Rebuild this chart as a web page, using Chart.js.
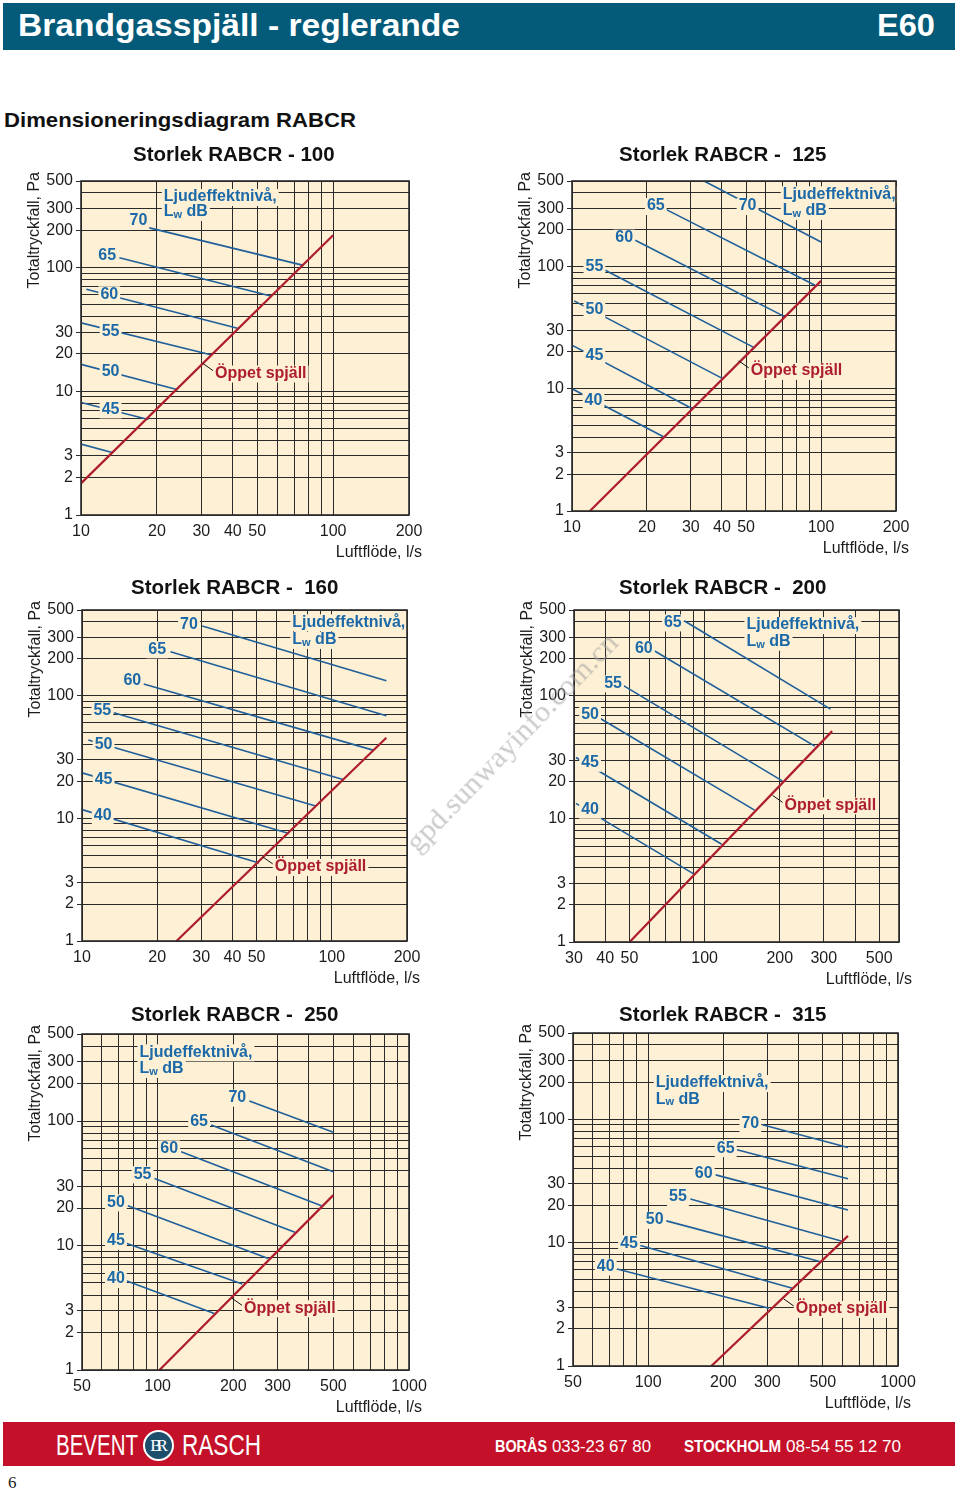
<!DOCTYPE html>
<html>
<head>
<meta charset="utf-8">
<script src="https://cdn.jsdelivr.net/npm/chart.js@4.4.1/dist/chart.umd.min.js"></script>
<style>
  body { margin: 0; width: 960px; height: 1493px; position: relative; background: #fff; overflow: hidden;
         font-family: 'Liberation Sans', Arial, sans-serif; }
  .abs { position: absolute; white-space: nowrap; }
  canvas { position: absolute; }
  #head { left: 3px; top: 3px; width: 952px; height: 47px; background: #045a79; }
  #foot { left: 3px; top: 1422px; width: 952px; height: 44px; background: #c41129; }
  .hd { color: #fff; font-weight: bold; font-size: 32px; line-height: 32px; }
  .ft { color: #fff; font-family: 'Liberation Sans Narrow', 'Liberation Sans', Arial, sans-serif; font-size: 16px; line-height: 16px; }
  .logo { color: #fff; font-family: 'Liberation Sans Narrow', 'Liberation Sans', Arial, sans-serif; font-size: 30px; line-height: 30px; }
  #br { left: 143px; top: 1430px; width: 27px; height: 27px; border-radius: 50%; background: #1d4f6d; border: 2px solid #fff;
        color: #fff; font-family: 'Liberation Serif', serif; font-size: 17px; line-height: 27px; text-align: center; letter-spacing: -5px; text-indent: -4px; }
  #wm { color: rgba(160,160,160,0.55); font-family: 'Liberation Serif', serif; font-size: 24px; line-height: 24px; }
</style>
</head>
<body>
<div id="head" class="abs"></div>
<div class="abs hd" style="left:18px;top:9px" data-w="442">Brandgasspjäll - reglerande</div>
<div class="abs hd" style="left:877px;top:9px" data-w="58">E60</div>
<div class="abs" style="left:4px;top:109px;font-weight:bold;font-size:21px;line-height:21px;color:#111" data-w="352">Dimensioneringsdiagram RABCR</div>

<div id="foot" class="abs"></div>
<div class="abs logo" style="left:56px;top:1430px" data-w="82">BEVENT</div>
<div id="br" class="abs">BR</div>
<div class="abs logo" style="left:182px;top:1430px" data-w="79">RASCH</div>
<div class="abs ft" style="left:495px;top:1439px;font-weight:bold" data-w="52">BORÅS</div>
<div class="abs ft" style="left:552px;top:1439px" data-w="99">033-23 67 80</div>
<div class="abs ft" style="left:684px;top:1439px;font-weight:bold" data-w="97">STOCKHOLM</div>
<div class="abs ft" style="left:786px;top:1439px" data-w="115">08-54 55 12 70</div>
<div class="abs" style="left:8px;top:1474px;font-family:'Liberation Serif',serif;font-size:17px;line-height:17px;color:#222">6</div>

<script>
// sound power levels, Lw dB (top line first)
const levels = [70, 65, 60, 55, 50, 45, 40];

// axis grids and tick labels
const yGrid = [1, 2, 3, 4, 5, 6, 7, 8, 9, 10, 20, 30, 40, 50, 60, 70, 80, 90, 100, 200, 300, 400, 500];
const yTicks = [1, 2, 3, 10, 20, 30, 100, 200, 300, 500];
const xGridA = [10, 20, 30, 40, 50, 60, 70, 80, 90, 100, 200];
const xTicksA = [10, 20, 30, 40, 50, 100, 200];
const xGridB = [30, 40, 50, 60, 70, 80, 90, 100, 200, 300, 400, 500, 600];
const xTicksB = [30, 40, 50, 100, 200, 300, 500];
const xGridC = [50, 60, 70, 80, 90, 100, 200, 300, 400, 500, 600, 700, 800, 900, 1000];
const xTicksC = [50, 100, 200, 300, 500, 1000];

// RABCR 100: Lw lines [flow1, pa1, flow2, pa2], open damper, label anchors
const lw100 = [[18.5, 210, 76.2, 104], [14.2, 120, 57.1, 58.6], [10.5, 66.8, 42.1, 32.1], [10, 35.7, 33, 19.6],
               [10, 16.5, 24.2, 10.3], [10, 8.12, 18.5, 5.92], [10, 3.74, 13.4, 3.19]];
const open100 = [[10, 1.8], [100, 182]];
const tag100 = [[16.9, 238], [12.7, 124], [12.95, 60.8], [13.1, 30.6], [13.1, 14.5], [13.1, 7.13], null];
const ljud100 = [21.3, 371, 281];
const openTag100 = [34, 13.9];

// RABCR 125
const lw125 = [[33.9, 500, 100, 158.6], [23.5, 297, 94.6, 70.2], [17.95, 163.7, 71.7, 38.7], [13.6, 93.1, 53.9, 21.7],
               [10.2, 52.3, 40.3, 12.1], [10, 22.7, 30.3, 6.9], [10, 10.0, 23.3, 4.05]];
const open125 = [[11.8, 1], [100, 76.2]];
const tag125 = [[50.7, 312], [21.7, 312], [16.2, 172], [12.3, 100], [12.3, 44.4], [12.3, 18.8], [12.2, 8.07]];
const ljud125 = [70.2, 389, 284];
const openTag125 = [52.2, 14.0];

// RABCR 160
const lw160 = [[30.3, 370.5, 165.3, 132.6], [22.6, 228.6, 165.3, 68.7], [17.66, 124.5, 146.2, 36.0], [13.4, 72.6, 110.9, 20.75],
               [10.6, 43.5, 86.2, 12.6], [10, 23.5, 67.4, 7.52], [10, 11.8, 51.1, 4.33]];
const open160 = [[23.9, 1], [165.3, 45.4]];
const tag160 = [[26.8, 377.5], [20, 239], [15.9, 132], [12.06, 75], [12.2, 40.3], [12.2, 20.7], [12.1, 10.6]];
const ljud160 = [69.5, 397, 285];
const openTag160 = [59.1, 4.02];

// RABCR 200 (no 70 dB line)
const lw200 = [null, [82.8, 409, 319, 78.2], [63.1, 232, 276, 39.1], [47.0, 122.6, 204.5, 20.4],
               [37.8, 66.5, 158.5, 11.8], [30.55, 31.6, 117, 6.23], [30.55, 13.4, 90, 3.6]];
const open200 = [[50.1, 1], [324, 51.8]];
const tag200 = [null, [74.6, 396], [57.1, 241], [43.0, 126.5], [34.8, 71.2], [34.8, 28.6], [34.8, 11.9]];
const ljud200 = [147, 377, 276];
const openTag200 = [209, 12.9];

// RABCR 250
const lw250 = [[231.6, 144.7, 500, 81.1], [163.2, 92.9, 500, 39.2], [124, 56.7, 448.5, 20.9], [97.2, 34.6, 351.6, 12.76],
               [76.1, 20.9, 275.4, 7.88], [75.4, 10.4, 217.2, 4.91], [75.4, 5.19, 168.1, 2.85]];
const open250 = [[101.7, 1], [500, 25.4]];
const tag250 = [[207.5, 154], [146.2, 98.8], [111.1, 60.3], [87.1, 37.3], [68.2, 22.2], [68.2, 10.9], [68.2, 5.38]];
const ljud250 = [84.7, 356, 262];
const openTag250 = [220.6, 3.13];

// RABCR 315
const lw315 = [[286.4, 90.2, 630.6, 59.1], [226.7, 56.5, 630.6, 32.9], [186.3, 35.4, 630.6, 18.4], [147.5, 22.6, 602, 10.2],
               [118.2, 15.0, 485.8, 7.02], [93.0, 9.47, 377.6, 4.27], [75.0, 6.12, 304.6, 2.94]];
const open315 = [[179, 1], [630.6, 11.34]];
const tag315 = [[256.4, 93], [204.3, 58.3], [166.8, 36.6], [131.6, 23.4], [106.2, 15.3], [83.8, 9.89], [67.6, 6.39]];
const ljud315 = [107.1, 196.4, 145.6];
const openTag315 = [389.5, 2.9];

const CREAM = '#fdf0d4', GRID = '#2a2a2a', BLUE = '#1f5f9a', BLUE_TXT = '#1b69a8', RED = '#ad1d2d', INK = '#1c1c1c';
const FONT = "'Liberation Sans', Arial, sans-serif";

const specs = [
  { title: 'Storlek RABCR - 100', lines: lw100, open: open100, tags: tag100, ljud: ljud100, openTag: openTag100,
    xGrid: xGridA, xTicks: xTicksA, box: [0, 135, 480, 435], plot: [81, 181, 409, 515], gap: 26, tx: 52 },
  { title: 'Storlek RABCR -  125', lines: lw125, open: open125, tags: tag125, ljud: ljud125, openTag: openTag125,
    xGrid: xGridA, xTicks: xTicksA, box: [480, 135, 480, 435], plot: [572, 181, 896, 511], gap: 26, tx: 47 },
  { title: 'Storlek RABCR -  160', lines: lw160, open: open160, tags: tag160, ljud: ljud160, openTag: openTag160,
    xGrid: xGridA, xTicks: xTicksA, box: [0, 570, 480, 425], plot: [82, 610, 407, 941], gap: 22, tx: 49 },
  { title: 'Storlek RABCR -  200', lines: lw200, open: open200, tags: tag200, ljud: ljud200, openTag: openTag200,
    xGrid: xGridB, xTicks: xTicksB, box: [480, 570, 480, 425], plot: [574, 610, 899, 942], gap: 22, tx: 45 },
  { title: 'Storlek RABCR -  250', lines: lw250, open: open250, tags: tag250, ljud: ljud250, openTag: openTag250,
    xGrid: xGridC, xTicks: xTicksC, box: [0, 995, 480, 425], plot: [82, 1034, 409, 1370], gap: 19, tx: 49 },
  { title: 'Storlek RABCR -  315', lines: lw315, open: open315, tags: tag315, ljud: ljud315, openTag: openTag315,
    xGrid: xGridC, xTicks: xTicksC, box: [480, 995, 480, 425], plot: [573, 1033, 898, 1366], gap: 18, tx: 46 }
];

function label(ctx, text, px, py, align, color, font) {
  ctx.font = font || 'bold 16px ' + FONT;
  const w = ctx.measureText(text).width;
  const left = align === 'left' ? px : px - w / 2;
  ctx.fillStyle = CREAM;
  ctx.fillRect(left - 2, py - 8, w + 4, 17);
  ctx.fillStyle = color;
  ctx.textAlign = 'left';
  ctx.textBaseline = 'middle';
  ctx.fillText(text, left, py);
}

function lwLabel(ctx, px, py) {
  ctx.font = 'bold 16px ' + FONT;
  const wL = ctx.measureText('L').width;
  const wDb = ctx.measureText(' dB').width;
  ctx.font = 'bold 11px ' + FONT;
  const wW = ctx.measureText('w').width;
  ctx.fillStyle = CREAM;
  ctx.fillRect(px - 2, py - 8, wL + wW + wDb + 4, 17);
  ctx.fillStyle = BLUE_TXT;
  ctx.textAlign = 'left';
  ctx.textBaseline = 'middle';
  ctx.font = 'bold 16px ' + FONT;
  ctx.fillText('L', px, py);
  ctx.font = 'bold 11px ' + FONT;
  ctx.fillText('w', px + wL, py + 3);
  ctx.font = 'bold 16px ' + FONT;
  ctx.fillText(' dB', px + wL + wW, py);
}

function overlay(s) {
  return {
    id: 'overlay',
    beforeDraw(chart) {
      const { ctx, chartArea: a } = chart;
      ctx.save();
      ctx.fillStyle = CREAM;
      ctx.fillRect(a.left, a.top, a.right - a.left, a.bottom - a.top);
      ctx.restore();
    },
    afterDatasetsDraw(chart) {
      const { ctx, scales: { x, y } } = chart;
      ctx.save();
      s.tags.forEach((t, i) => {
        if (t) label(ctx, String(levels[i]), x.getPixelForValue(t[0]), y.getPixelForValue(t[1]), 'center', BLUE_TXT);
      });
      const lx = x.getPixelForValue(s.ljud[0]);
      label(ctx, 'Ljudeffektnivå,', lx, y.getPixelForValue(s.ljud[1]), 'left', BLUE_TXT);
      lwLabel(ctx, lx, y.getPixelForValue(s.ljud[2]));
      const ox = x.getPixelForValue(s.openTag[0]), oy = y.getPixelForValue(s.openTag[1]);
      label(ctx, 'Öppet spjäll', ox, oy, 'left', RED, 'bold 16px ' + FONT);
      ctx.strokeStyle = '#111';
      ctx.lineWidth = 1;
      ctx.beginPath();
      ctx.moveTo(ox - 12, oy - 10);
      ctx.lineTo(ox - 2, oy - 3);
      ctx.stroke();
      ctx.restore();
    },
    afterDraw(chart) {
      const { ctx, chartArea: a } = chart;
      ctx.save();
      ctx.strokeStyle = GRID;
      ctx.lineWidth = 1.6;
      ctx.strokeRect(a.left, a.top, a.right - a.left, a.bottom - a.top);
      ctx.fillStyle = '#111';
      ctx.textBaseline = 'middle';
      ctx.textAlign = 'left';
      ctx.font = 'bold 20.5px ' + FONT;
      ctx.fillText(s.title, a.left + s.tx, a.top - s.gap);
      ctx.fillStyle = INK;
      ctx.font = '16px ' + FONT;
      ctx.textAlign = 'right';
      ctx.fillText('Luftflöde, l/s', a.right + 13, a.bottom + 38);
      ctx.translate(a.left - 46.5, a.top - 9);
      ctx.rotate(-Math.PI / 2);
      ctx.font = '16px ' + FONT;
      ctx.fillText('Totaltryckfall, Pa', 0, 0);
      ctx.restore();
    }
  };
}

function makeChart(s) {
  const [bx, by, bw, bh] = s.box;
  const [pl, pt, pr, pb] = s.plot;
  const yW = 40, xH = 30;
  const cv = document.createElement('canvas');
  cv.width = bw; cv.height = bh;
  cv.style.left = bx + 'px'; cv.style.top = by + 'px';
  cv.style.width = bw + 'px'; cv.style.height = bh + 'px';
  document.body.appendChild(cv);

  const datasets = [{ data: s.open.map(p => ({ x: p[0], y: p[1] })), borderColor: RED, borderWidth: 2.2 }];
  s.lines.forEach(l => {
    if (l) datasets.push({ data: [{ x: l[0], y: l[1] }, { x: l[2], y: l[3] }], borderColor: BLUE, borderWidth: 1.6 });
  });
  datasets.forEach(d => Object.assign(d, { showLine: true, pointRadius: 0, pointHoverRadius: 0, fill: false }));

  new Chart(cv, {
    type: 'scatter',
    data: { datasets },
    options: {
      responsive: false,
      animation: false,
      events: [],
      layout: { padding: { left: pl - bx - yW, top: pt - by, right: bx + bw - pr, bottom: by + bh - pb - xH } },
      plugins: { legend: { display: false }, tooltip: { enabled: false } },
      scales: {
        x: {
          type: 'logarithmic',
          min: s.xGrid[0], max: s.xGrid[s.xGrid.length - 1],
          afterBuildTicks: sc => { sc.ticks = s.xGrid.map(v => ({ value: v })); },
          afterFit: sc => { sc.height = xH; },
          border: { display: false },
          grid: { color: GRID, lineWidth: 1, drawTicks: false },
          ticks: { autoSkip: false, maxRotation: 0, padding: 7, color: INK, font: { size: 16, family: FONT },
                   callback: v => s.xTicks.includes(v) ? String(v) : '' }
        },
        y: {
          type: 'logarithmic',
          min: yGrid[0], max: yGrid[yGrid.length - 1],
          afterBuildTicks: sc => { sc.ticks = yGrid.map(v => ({ value: v })); },
          afterFit: sc => { sc.width = yW; },
          border: { display: false },
          grid: { color: GRID, lineWidth: 1, tickLength: 5, tickWidth: 1,
                  tickColor: c => (c.tick && yTicks.includes(c.tick.value)) ? GRID : 'rgba(0,0,0,0)' },
          ticks: { autoSkip: false, padding: 3, color: INK, font: { size: 16, family: FONT },
                   callback: v => yTicks.includes(v) ? String(v) : '' }
        }
      }
    },
    plugins: [overlay(s)]
  });
}

specs.forEach(makeChart);

// watermark
const wm = document.createElement('div');
wm.id = 'wm'; wm.className = 'abs';
wm.textContent = 'gpd.sunwayinfo.com.cn';
document.body.appendChild(wm);
const w0 = wm.getBoundingClientRect().width;
wm.style.fontSize = (24 * 291 / w0) + 'px';
const r = wm.getBoundingClientRect();
wm.style.left = (511 - r.width / 2) + 'px';
wm.style.top = (742 - r.height / 2) + 'px';
wm.style.transform = 'rotate(-46deg)';

// fit text widths to the reference
document.querySelectorAll('[data-w]').forEach(el => {
  const w = el.getBoundingClientRect().width;
  el.style.transformOrigin = 'left center';
  el.style.transform = 'scaleX(' + (el.dataset.w / w) + ')';
});
</script>
</body>
</html>
